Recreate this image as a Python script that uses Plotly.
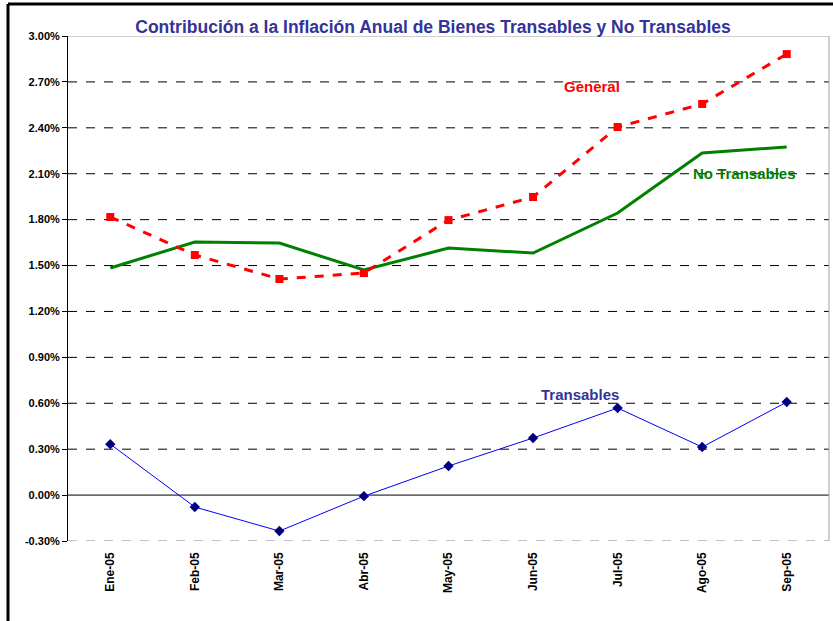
import plotly.graph_objects as go

months = ["Ene-05", "Feb-05", "Mar-05", "Abr-05", "May-05", "Jun-05", "Jul-05", "Ago-05", "Sep-05"]
general = [1.817, 1.569, 1.412, 1.451, 1.797, 1.948, 2.405, 2.556, 2.882]
no_transables = [1.484, 1.654, 1.647, 1.471, 1.614, 1.582, 1.843, 2.235, 2.275]
transables = [0.333, -0.078, -0.235, -0.007, 0.190, 0.373, 0.569, 0.314, 0.608]
yticks = [-0.3, 0.0, 0.3, 0.6, 0.9, 1.2, 1.5, 1.8, 2.1, 2.4, 2.7, 3.0]

W, H = 833, 621
ml, mr, mt, mb = 68, 4, 36, 80
pw, ph = W - ml - mr, H - mt - mb

fig = go.Figure()
fig.add_trace(go.Scatter(x=months, y=no_transables, mode="lines", name="No Transables",
                         line=dict(color="#008000", width=3)))
fig.add_trace(go.Scatter(x=months, y=general, mode="lines+markers", name="General",
                         line=dict(color="#FF0000", width=3, dash="dash"),
                         marker=dict(symbol="square", size=8, color="#FF0000")))
fig.add_trace(go.Scatter(x=months, y=transables, mode="lines+markers", name="Transables",
                         line=dict(color="#0000FF", width=1),
                         marker=dict(symbol="diamond", size=8, color="#000080")))

# dashed gridlines
shapes = []
for v in yticks:
    if v in (0.0, 3.0, -0.3):
        continue
    shapes.append(dict(type="line", xref="paper", yref="y", x0=0, x1=1, y0=v, y1=v,
                       line=dict(color="black", width=1, dash="dash"), layer="below"))
shapes.append(dict(type="line", xref="paper", yref="y", x0=0, x1=1, y0=0, y1=0,
                   line=dict(color="black", width=1), layer="below"))
shapes.append(dict(type="line", xref="paper", yref="y", x0=0, x1=1, y0=-0.3, y1=-0.3,
                   line=dict(color="#808080", width=1, dash="dash"), layer="below"))
shapes.append(dict(type="line", xref="paper", yref="y", x0=0, x1=1, y0=3.0, y1=3.0,
                   line=dict(color="#A0A0A0", width=1), layer="below"))
shapes.append(dict(type="line", xref="paper", yref="paper", x0=1, x1=1, y0=0, y1=1,
                   line=dict(color="#A0A0A0", width=1), layer="below"))
# outer frame (left and top)
fx = (8 - ml) / pw
fy = 1 + (mt - 4) / ph
shapes.append(dict(type="line", xref="paper", yref="paper", x0=fx, x1=fx, y0=-1, y1=fy,
                   line=dict(color="black", width=3)))
shapes.append(dict(type="line", xref="paper", yref="paper", x0=fx, x1=1.5, y0=fy, y1=fy,
                   line=dict(color="black", width=3)))

fig.update_layout(
    width=W, height=H,
    margin=dict(l=ml, r=mr, t=mt, b=mb),
    paper_bgcolor="white", plot_bgcolor="white",
    showlegend=False,
    font=dict(family="Liberation Sans, Arial, sans-serif", color="black"),
    title=dict(text="<b>Contribución a la Inflación Anual de Bienes Transables y No Transables</b>",
               x=(433) / W, xanchor="center", y=1 - 27 / H, yanchor="middle",
               font=dict(size=17.5, color="#333399")),
    shapes=shapes,
    xaxis=dict(type="category", showgrid=False, zeroline=False, showline=False,
               tickangle=-90, tickfont=dict(size=12, family="Liberation Sans, Arial", color="black"),
               ticks="", ticklabelstandoff=8, range=[-0.5, 8.5],
               tickprefix="<b>", ticksuffix="</b>"),
    yaxis=dict(range=[-0.3, 3.0], tickvals=yticks,
               ticktext=[f"<b>{v:.2f}%</b>" for v in yticks],
               showgrid=False, zeroline=False, showline=True, linecolor="black", linewidth=1,
               ticks="outside", ticklen=5, tickcolor="black",
               tickfont=dict(size=11, family="Liberation Sans, Arial", color="black")),
    annotations=[
        dict(text="<b>General</b>", x=5.7, y=2.67, xref="x", yref="y", showarrow=False,
             font=dict(size=15, color="#FF0000")),
        dict(text="<b>No Transables</b>", x=7.5, y=2.10, xref="x", yref="y", showarrow=False,
             font=dict(size=15, color="#008000")),
        dict(text="<b>Transables</b>", x=5.55, y=0.66, xref="x", yref="y", showarrow=False,
             font=dict(size=15, color="#333399")),
    ],
)

fig.write_html("out.html", config={"displayModeBar": False},
               post_script="document.body.style.margin='0';document.body.style.overflow='hidden';")
